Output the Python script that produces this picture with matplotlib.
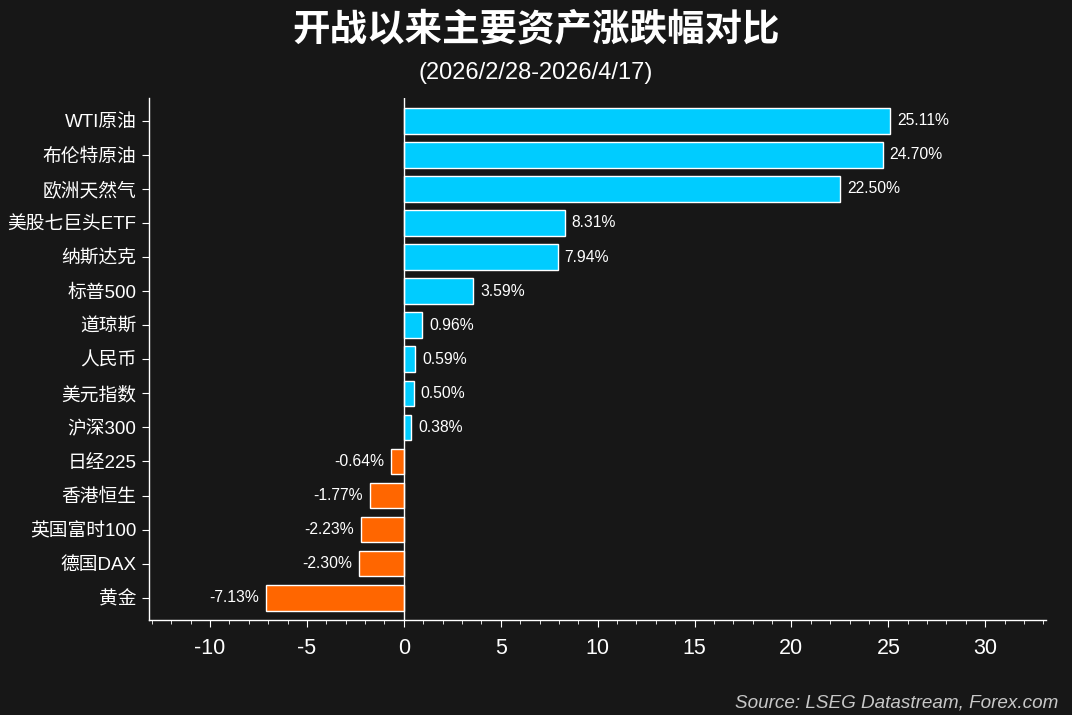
import numpy as np
import matplotlib
matplotlib.use('Agg')
import matplotlib.pyplot as plt
from matplotlib.ticker import MultipleLocator


plt.rcParams['font.family'] = ['Liberation Sans', 'Noto Sans CJK SC', 'DejaVu Sans']

assets = ['WTI原油', '布伦特原油', '欧洲天然气', '美股七巨头ETF', '纳斯达克', '标普500', '道琼斯',
          '人民币', '美元指数', '沪深300', '日经225', '香港恒生', '英国富时100', '德国DAX', '黄金']
changes = [25.11, 24.70, 22.50, 8.31, 7.94, 3.59, 0.96, 0.59, 0.50, 0.38,
           -0.64, -1.77, -2.23, -2.30, -7.13]
x_ticks = [-10, -5, 0, 5, 10, 15, 20, 25, 30]

bg = '#171717'
up_color = '#00ccff'
down_color = '#ff6600'

fig = plt.figure(figsize=(10.72, 7.15), dpi=100, facecolor=bg)
ax = fig.add_axes([0.139, 0.133, 0.837, 0.730], facecolor=bg)

y = np.arange(len(assets))
colors = [up_color if v >= 0 else down_color for v in changes]
ax.barh(y, changes, height=0.75, color=colors, edgecolor='white', linewidth=1, zorder=2)
ax.axvline(0, color='white', linewidth=1, zorder=3)

for yi, v in zip(y, changes):
    if v >= 0:
        ax.annotate(f'{v:.2f}%', (v, yi), xytext=(5, 0), textcoords='offset points',
                    ha='left', va='center', color='white', fontsize=11.3)
    else:
        ax.annotate(f'{v:.2f}%', (v, yi), xytext=(-5, 0), textcoords='offset points',
                    ha='right', va='center', color='white', fontsize=11.3)

ax.set_yticks(y)
ax.set_yticklabels(assets, fontsize=13.5, color='white')
ax.set_ylim(len(assets) - 0.35, -0.67)

ax.set_xlim(-13.15, 33.15)
ax.set_xticks(x_ticks)
ax.set_xticklabels([str(t) for t in x_ticks], fontsize=15.5, color='white')
ax.xaxis.set_minor_locator(MultipleLocator(1))

for side in ['top', 'right']:
    ax.spines[side].set_visible(False)
for side in ['left', 'bottom']:
    ax.spines[side].set_color('white')
    ax.spines[side].set_linewidth(1)

ax.tick_params(axis='x', which='major', length=5, color='white', pad=8)
ax.tick_params(axis='x', which='minor', length=3, color='white')
ax.tick_params(axis='y', length=5, color='white', pad=4)

fig.text(0.5, 0.957, '开战以来主要资产涨跌幅对比', ha='center', va='center',
         fontsize=27, fontweight='bold', color='white')
fig.text(0.5, 0.898, '(2026/2/28-2026/4/17)', ha='center', va='center',
         fontsize=17, color='white')
fig.text(0.987, 0.017, 'Source: LSEG Datastream, Forex.com', ha='right', va='center',
         fontsize=13.6, style='italic', color='#c8c8c8')

fig.savefig('out.png', dpi=100, facecolor=bg)
